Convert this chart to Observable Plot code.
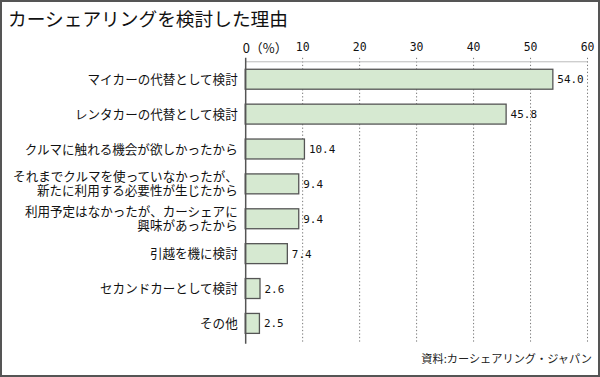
<!DOCTYPE html>
<html><head><meta charset="utf-8">
<script src="https://cdn.jsdelivr.net/npm/d3@7"></script>
<script src="https://cdn.jsdelivr.net/npm/@observablehq/plot@0.6"></script>
<style>
html,body{margin:0;padding:0;background:#fff;}
#wrap{position:relative;width:600px;height:377px;box-sizing:border-box;border:2px solid #555;background:#fff;overflow:hidden;}
#title{position:absolute;left:6px;top:5px;font-family:"Noto Sans CJK JP";font-size:18.7px;color:#111;line-height:1.2;}
#src{position:absolute;right:6px;top:348px;font-family:"Noto Sans CJK JP";font-size:11.2px;color:#222;}
#chart{position:absolute;left:-2px;top:-2px;}
</style></head>
<body>
<div id="wrap">
<div id="chart"></div>
<div id="title">カーシェアリングを検討した理由</div>
<div id="src">資料:カーシェアリング・ジャパン</div>
</div>
<script>
const categories = [
  "マイカーの代替として検討",
  "レンタカーの代替として検討",
  "クルマに触れる機会が欲しかったから",
  "それまでクルマを使っていなかったが、\n新たに利用する必要性が生じたから",
  "利用予定はなかったが、カーシェアに\n興味があったから",
  "引越を機に検討",
  "セカンドカーとして検討",
  "その他"
];
const values = [54.0, 45.8, 10.4, 9.4, 9.4, 7.4, 2.6, 2.5];
const ticks = [0, 10, 20, 30, 40, 50, 60];
const tickLabels = ["0（%）", "10", "20", "30", "40", "50", "60"];

const data = categories.map((c, i) => ({category: c, value: values[i]}));
const tickData = ticks.map((t, i) => ({t, label: tickLabels[i]}));
// category label lines (split on line breaks)
const labelLines = categories.flatMap(c => {
  const parts = c.split("\n");
  return parts.map((p, i) => ({category: c, text: p, n: parts.length, i}));
});
const numFont = "DejaVu Sans Mono, Noto Sans CJK JP";
const labelOpts = {x: 0, y: "category", text: "text", textAnchor: "end", dx: -8, fontSize: 12.6, fill: "#111"};

const chart = Plot.plot({
  width: 600,
  height: 377,
  marginLeft: 246,
  marginRight: 11,
  marginTop: 58,
  marginBottom: 32,
  style: {fontFamily: "Noto Sans CJK JP", background: "transparent"},
  x: {domain: [0, 60], axis: null},
  y: {domain: categories, padding: 0, axis: null},
  marks: [
    Plot.ruleX(ticks.filter(t => t > 0), {x: d => d, stroke: "#777", strokeDasharray: "1.3,2.2", strokeWidth: 1}),
    Plot.ruleY([0], {x1: 0, x2: 60, y: () => categories[0], dy: -18, stroke: "#bbb", strokeWidth: 1}),
    Plot.barX(data, {x: "value", y: "category", fill: "#d6e9d1", stroke: "#555", strokeWidth: 1.3, insetTop: 7.5, insetBottom: 7.5}),
    Plot.ruleX([0], {stroke: "#555", strokeWidth: 1.5}),
    Plot.text(labelLines.filter(d => d.n === 1), {...labelOpts}),
    Plot.text(labelLines.filter(d => d.n === 2 && d.i === 0), {...labelOpts, dy: -7}),
    Plot.text(labelLines.filter(d => d.n === 2 && d.i === 1), {...labelOpts, dy: 7}),
    Plot.text(data, {x: "value", y: "category", text: d => d.value.toFixed(1), textAnchor: "start", dx: 4, fontSize: 11, fontFamily: numFont, fill: "#111"}),
    Plot.text(tickData.filter(d => d.t > 0), {x: "t", frameAnchor: "top", text: "label", dy: -15, fontSize: 11.5, fontFamily: numFont, fill: "#111"}),
    Plot.text(tickData.filter(d => d.t === 0), {x: "t", frameAnchor: "top", text: "label", textAnchor: "start", dx: -3, dy: -15, fontSize: 13, fontFamily: "Noto Sans CJK JP", fill: "#111"})
  ]
});
document.getElementById("chart").appendChild(chart);
</script>
</body></html>
